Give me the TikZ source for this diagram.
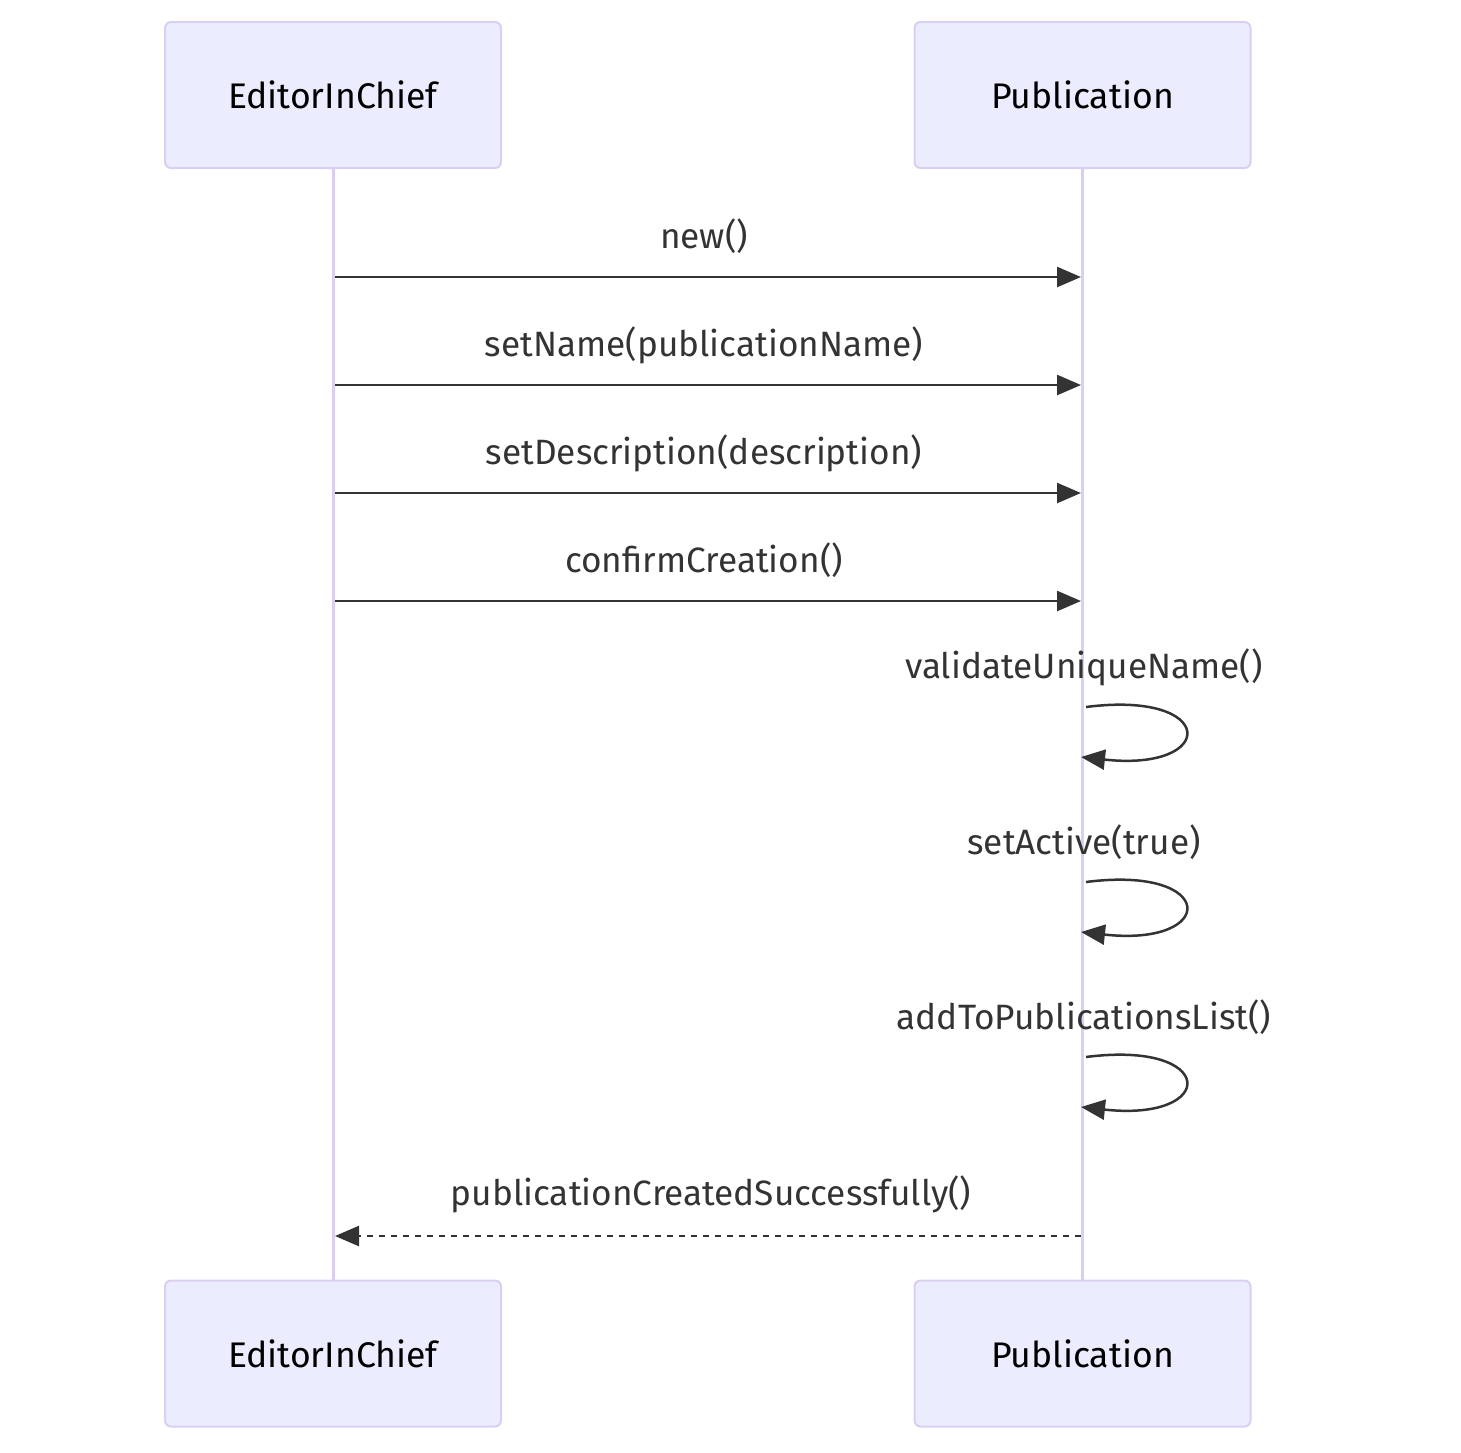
\documentclass[tikz,border=0pt]{standalone}
\usepackage{fontspec}
\setmainfont{Fira Sans}
\usetikzlibrary{arrows.meta}
\definecolor{actfill}{HTML}{ECECFF}
\definecolor{actline}{HTML}{DACEF2}
\definecolor{msg}{HTML}{333333}
\begin{document}
\begin{tikzpicture}[x=0.5pt,y=-0.5pt,
  actor/.style={draw=actline,fill=actfill,line width=1pt,rounded corners=3pt,
    minimum width=168pt,minimum height=73pt,inner sep=0pt,font=\fontsize{17.8}{21}\selectfont,text=black},
  life/.style={draw=actline,line width=1.5pt},
  msgline/.style={draw=msg,line width=1.25pt,-{Triangle[length=12pt,width=10pt]}},
  lbl/.style={anchor=base,font=\fontsize{17.6}{21}\selectfont,text=msg,inner sep=0pt},
  dashline/.style={msgline,dash pattern=on 3pt off 3pt}]
\useasboundingbox (0,0) rectangle (1461,1452);
% actors
\node[actor] (eTop) at (333,95) {EditorInChief};
\node[actor] (pTop) at (1082.5,95) {Publication};
\node[actor] (eBot) at (333,1353.5) {EditorInChief};
\node[actor] (pBot) at (1082.5,1353.5) {Publication};
\draw[life] (eTop.south) -- (eBot.north);
\draw[life] (pTop.south) -- (pBot.north);
% messages
\coordinate (a1) at (335,277); \coordinate (b1) at (1081,277);
\coordinate (a2) at (335,385); \coordinate (b2) at (1081,385);
\coordinate (a3) at (335,493); \coordinate (b3) at (1081,493);
\coordinate (a4) at (335,601); \coordinate (b4) at (1081,601);
\draw[msgline] (a1) -- (b1);
\draw[msgline] (a2) -- (b2);
\draw[msgline] (a3) -- (b3);
\draw[msgline] (a4) -- (b4);
\node[lbl] (l1) at (704,248) {new()};
\node[lbl] (l2) at (704,356) {setName(publicationName)};
\node[lbl] (l3) at (704,464) {setDescription(description)};
\node[lbl] (l4) at (704,572) {confirmCreation()};
% self messages
\coordinate (s1) at (1086,707); \coordinate (e1) at (1081,757);
\coordinate (s2) at (1086,882); \coordinate (e2) at (1081,932);
\coordinate (s3) at (1086,1057); \coordinate (e3) at (1081,1107);
\draw[msgline] (s1) .. controls (1218,690) and (1218,772) .. (e1);
\draw[msgline] (s2) .. controls (1218,865) and (1218,947) .. (e2);
\draw[msgline] (s3) .. controls (1218,1040) and (1218,1122) .. (e3);
\node[lbl] (l5) at (1084,678) {validateUniqueName()};
\node[lbl] (l6) at (1084,854) {setActive(true)};
\node[lbl] (l7) at (1084,1029) {addToPublicationsList()};
% return
\coordinate (r1) at (1081,1236); \coordinate (r2) at (335,1236);
\draw[dashline] (r1) -- (r2);
\node[lbl] (l8) at (711,1205) {publicationCreatedSuccessfully()};
\end{tikzpicture}
\end{document}
